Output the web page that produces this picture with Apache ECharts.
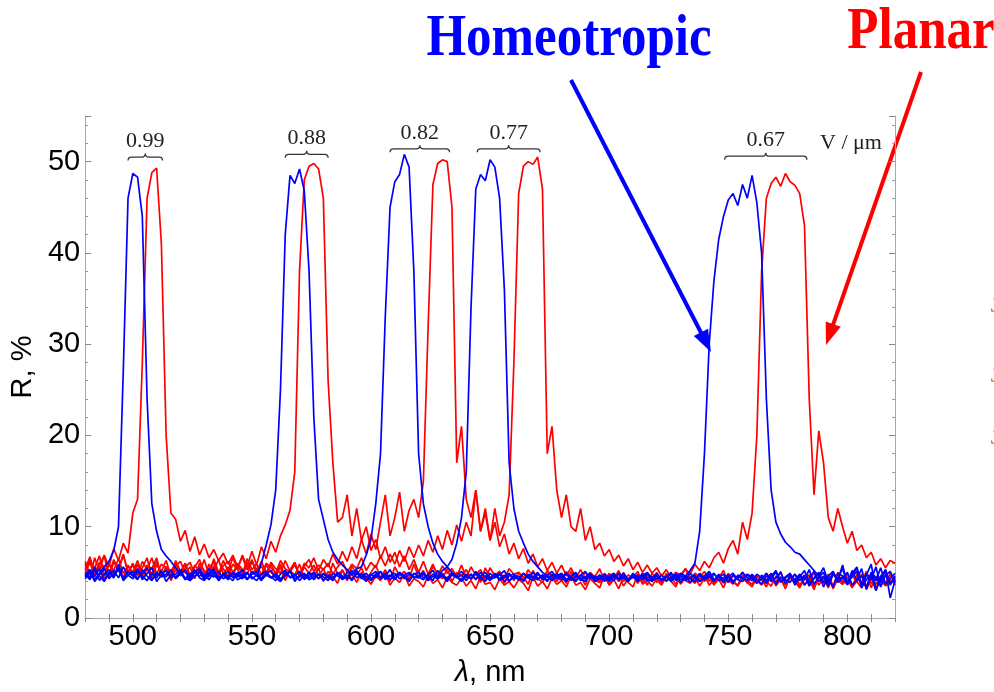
<!DOCTYPE html>
<html><head><meta charset="utf-8">
<script src="https://cdn.jsdelivr.net/npm/echarts@6/dist/echarts.min.js"></script>
<style>html,body{margin:0;padding:0;background:#fff}#c{width:994px;height:692px}</style>
</head><body><div id="c"></div>
<script>
// wavelength grid: 480 .. 820 nm, 2 nm step
const xStart = 480, xStep = 2;

// Homeotropic (blue) spectra, R %
const blue099 = [
4.6,5.3,4.2,4.9,5.6,6.2,7.4,10,27,46,
48.7,48.3,44,24,12.5,9.5,7.5,6.8,6.2,5.5,
4.8,5.3,4.4,5.0,5.4,4.5,4.9,5.2,4.3,4.8,
5.1,4.4,4.7,5.3,4.2,4.8,5.0,4.3,4.9,4.5,
4.1,4.8,5.2,4.4,4.6,5.1,4.2,4.7,5.0,4.3,
4.9,4.5,4.1,5.0,4.6,4.3,5.2,4.4,4.8,4.1,
4.7,5.1,4.3,4.6,5.3,4.2,4.9,4.5,4.0,4.8,
5.0,4.4,4.7,4.1,5.2,4.6,4.3,5.0,4.5,4.2,
4.8,4.3,5.1,4.5,4.0,4.9,4.4,4.7,5.2,4.1,
4.6,4.2,4.9,4.4,5.0,4.3,4.7,4.1,4.8,4.5,
4.2,4.9,4.4,4.0,4.7,5.1,4.3,4.6,4.2,4.8,
4.4,4.1,4.9,4.5,4.2,4.8,4.0,4.6,5.0,4.3,
4.7,4.2,4.5,5.0,4.1,4.6,4.3,4.9,4.4,4.0,
4.6,5.1,4.2,4.5,4.8,3.9,4.7,4.3,5.0,4.4,
4.1,4.8,4.4,3.8,4.6,5.2,4.0,4.5,4.9,3.9,
4.7,4.2,5.3,3.7,4.5,5.0,3.6,4.8,4.3,5.4,
3.8,4.6,5.5,3.5,4.9,4.2,5.6,3.4,4.7,5.1,
4.0];
const blue088 = [
5.0,4.4,5.6,4.1,4.8,5.3,4.5,5.9,4.3,5.1,
4.6,5.4,4.2,4.9,5.5,4.0,4.7,5.2,4.4,4.8,
5.3,4.3,4.9,4.5,5.1,4.2,4.6,5.4,4.1,4.7,
4.4,5.0,4.5,4.8,4.2,5.1,4.6,6.0,8.0,10.2,
14,25,42,48.5,47.6,49.2,46.8,38,22,13,
10.8,8.6,7.2,6.4,5.8,5.3,4.8,5.2,4.5,4.9,
4.3,4.8,5.1,4.4,4.7,4.2,5.0,4.6,4.1,4.9,
4.5,4.2,4.8,5.2,4.3,4.6,4.0,4.9,4.4,4.7,
4.1,4.8,4.3,4.6,5.0,4.2,4.5,4.9,4.0,4.6,
4.8,4.3,4.1,4.7,4.4,5.0,4.2,4.6,4.3,4.9,
4.4,4.0,4.6,4.9,4.2,4.5,4.8,4.1,4.7,4.3,
4.6,4.9,4.2,4.4,4.0,4.8,4.5,4.3,4.9,4.1,
4.3,4.7,4.0,4.5,4.8,4.2,4.6,3.9,4.4,4.7,
4.2,4.5,4.9,4.1,4.4,4.7,4.0,4.6,4.3,4.8,
4.5,3.9,4.3,4.9,4.0,4.4,5.0,3.8,4.6,4.2,
4.8,3.6,4.4,5.1,4.0,4.6,3.5,5.0,4.2,4.5,
3.7,5.2,4.1,4.6,3.3,5.0,4.4,3.9,5.3,3.6,
4.6];
const blue082 = [
4.3,5.0,4.6,5.4,4.1,4.8,5.2,4.4,5.6,4.7,
5.1,4.3,4.9,5.5,4.2,4.7,5.0,4.5,5.3,4.4,
4.8,5.2,4.1,4.6,5.0,4.3,5.4,4.7,4.2,4.9,
4.5,4.1,5.0,4.6,4.3,4.8,5.1,4.2,4.7,4.4,
4.9,4.3,4.6,5.2,4.0,4.7,4.4,5.0,4.2,4.8,
4.5,4.1,4.9,4.6,4.3,5.0,4.7,5.4,5.6,6.9,
8.6,12.5,18,33,45,47.8,48.6,50.8,49.4,38,
18,12.5,10,8.2,7.0,6.2,5.6,5.0,4.6,5.1,
4.4,4.8,4.2,5.0,4.5,4.1,4.9,4.3,4.7,4.0,
4.6,4.2,4.9,4.4,4.1,4.8,4.5,4.0,4.7,4.3,
4.5,4.9,4.1,4.6,4.3,4.0,4.8,4.4,4.2,4.7,
4.0,4.6,4.4,4.8,4.1,4.5,4.2,4.9,4.3,4.0,
4.7,4.1,4.5,4.2,4.8,3.9,4.6,4.3,4.0,4.9,
4.3,4.6,4.0,4.8,4.2,4.5,3.8,4.7,4.4,4.1,
4.8,4.2,3.7,4.6,4.3,5.0,3.9,4.4,4.7,3.6,
4.5,5.2,3.8,4.3,4.9,3.4,4.6,5.1,3.9,4.4,
5.0,3.6,4.2,5.4,3.2,4.8,4.1,5.5,3.7,4.3,
4.9];
const blue077 = [
4.8,4.2,5.3,4.6,4.0,5.0,4.4,5.5,4.1,4.7,
4.3,5.1,4.6,4.1,4.9,4.4,5.2,4.0,4.7,4.5,
5.0,4.2,4.7,5.3,4.4,4.1,4.8,4.5,5.1,4.3,
4.6,4.9,4.2,4.5,5.0,4.3,4.7,4.1,4.8,5.2,
4.4,4.0,4.7,5.1,4.3,4.6,4.9,4.2,4.5,4.8,
4.1,4.7,4.4,5.0,4.2,4.6,4.3,4.9,4.5,4.0,
4.8,4.4,5.1,4.2,4.6,4.9,4.3,4.7,5.0,4.4,
4.6,5.0,4.3,4.8,4.5,5.2,5.6,6.4,8.2,11,
16,34,47,48.6,47.9,50.2,49.4,46,36,17,
12,9.5,8.2,7.0,6.2,5.6,5.0,4.6,5.1,4.4,
4.8,4.2,4.6,5.0,4.1,4.5,4.9,4.3,4.7,4.0,
4.5,4.8,4.2,4.6,4.0,4.9,4.3,4.7,4.1,4.4,
4.9,4.2,4.6,4.0,4.5,4.8,4.1,4.4,4.7,4.0,
4.4,4.8,4.1,4.6,3.9,4.5,4.9,4.2,4.0,4.7,
4.3,3.8,4.7,4.1,4.9,3.7,4.5,4.2,3.9,4.8,
4.1,4.7,3.5,4.4,5.0,3.9,4.3,3.4,4.9,4.6,
3.9,4.5,5.1,3.4,4.2,4.8,3.0,4.6,5.2,3.8,
4.3];
const blue067 = [
4.5,5.1,4.0,4.7,5.4,4.3,4.9,5.2,4.4,5.0,
4.7,4.2,5.3,4.6,4.1,5.0,4.5,4.8,5.2,4.3,
4.9,4.4,4.1,5.1,4.6,4.8,4.2,5.0,4.5,4.7,
4.2,5.0,4.7,4.3,4.9,4.5,4.1,4.8,5.1,4.4,
4.6,4.2,5.0,4.5,4.8,4.1,4.7,4.4,4.9,4.3,
4.8,4.5,4.2,4.9,4.4,4.7,4.1,5.0,4.3,4.6,
4.1,4.7,4.4,4.9,4.2,4.6,5.0,4.3,4.8,4.5,
4.4,4.8,4.1,4.6,4.3,4.9,4.2,4.7,4.5,4.0,
4.7,4.3,4.9,4.2,4.6,4.4,4.8,4.1,4.5,4.9,
4.3,4.6,4.0,4.8,4.4,4.2,4.7,4.5,4.1,4.6,
4.9,4.2,4.5,4.1,4.7,4.3,4.6,4.0,4.4,4.8,
4.2,4.6,4.3,4.9,4.1,4.5,4.7,4.2,4.8,4.4,
4.6,4.1,4.5,4.8,4.3,4.9,4.6,5.2,6.0,9.5,
18,30,37,41.5,44,45.8,46.5,45.2,47.5,46.0,
48.5,45.5,40,24,14,10.5,9.2,8.3,7.8,7.2,
7.0,6.4,5.8,5.2,4.6,5.5,3.9,5.0,4.2,5.8,
3.6,4.9,5.6,3.3,4.7,5.9,3.1,4.4,5.3,2.2,
4.1];

// Planar (red) spectra, R %
const red099 = [
5.9,4.3,6.6,5.1,6.9,5.6,7.6,6.3,8.2,7.1,
11.5,13,28,46,48.8,49.3,41,20,11.5,10.8,
8.4,9.6,7.3,8.9,6.9,8.1,6.6,7.5,6.3,7.1,
5.9,6.9,5.6,6.7,5.3,6.4,5.1,6.2,5.0,5.9,
4.8,5.9,4.5,5.3,6.1,4.4,5.6,4.9,5.8,4.6,
5.4,4.3,6.0,4.8,5.2,4.1,5.7,4.7,5.5,4.2,
5.0,5.8,4.4,5.3,4.0,5.6,4.6,5.1,4.3,5.9,
4.5,5.2,4.1,5.7,4.8,4.3,5.4,4.0,5.0,4.6,
5.3,4.2,4.9,3.9,5.5,4.4,4.7,5.1,3.8,4.8,
4.1,5.0,4.5,3.7,5.2,4.3,3.9,4.9,4.6,4.0,
4.7,3.8,5.1,4.2,4.5,3.6,4.9,4.1,3.9,4.6,
3.7,4.4,4.8,3.5,4.3,4.7,3.9,4.5,3.6,4.9,
4.2,3.6,4.6,4.0,3.4,4.8,4.1,3.8,4.5,3.5,
4.4,4.9,3.7,4.2,3.3,4.6,4.0,3.6,4.7,3.9,
3.4,4.5,4.1,3.8,4.9,3.5,4.3,3.2,4.6,4.0,
4.8,3.6,4.2,3.1,4.7,3.9,4.4,3.4,5.0,3.7,
4.3,3.3,4.8,3.9,3.5,4.6,3.0,4.4,3.8,4.9,
3.6];
const red088 = [
4.9,6.1,4.5,5.7,4.2,6.0,4.8,5.5,4.4,5.8,
4.6,5.9,4.3,5.4,4.9,6.2,4.5,5.6,4.1,5.3,
4.7,6.0,4.4,5.8,5.0,6.4,4.6,5.7,4.8,6.3,
5.1,6.6,5.3,6.9,5.6,7.3,5.8,7.8,6.5,8.4,
7.2,9.0,10.2,11.8,16,38,48,49.5,49.8,49.2,
46,26,17,10.5,11,13.5,9,12,8.5,10,
7.4,8.6,6.5,7.8,6.1,7.2,5.6,6.8,5.3,6.4,
5.0,6.2,4.8,5.9,4.6,5.7,4.9,5.4,4.5,5.8,
4.4,5.6,4.7,5.3,4.2,5.5,4.6,5.1,4.3,5.4,
4.8,5.0,4.1,5.3,4.5,4.9,4.2,5.2,4.6,4.7,
4.0,5.1,4.4,4.8,4.1,5.0,4.5,4.6,3.9,4.9,
4.3,4.7,4.0,5.0,4.2,4.6,3.8,4.9,4.4,4.5,
3.9,4.8,4.1,4.4,3.7,4.7,4.2,4.3,3.8,4.6,
4.0,4.5,3.6,4.7,4.1,4.2,3.7,4.6,4.3,3.9,
4.5,3.8,4.4,4.0,3.5,4.6,4.1,3.7,4.3,4.8,
3.6,4.2,4.7,3.4,4.5,3.9,4.8,3.5,4.4,4.1,
3.7,4.6,4.0,3.3,4.9,3.8,4.3,3.5,4.7,4.0,
4.4];
const red082 = [
6.2,4.8,5.5,6.8,4.6,5.9,5.2,6.5,4.9,5.7,
5.0,6.3,4.7,5.8,5.4,6.6,4.5,5.6,5.1,6.0,
4.6,5.5,6.1,4.9,5.7,4.4,5.9,5.2,6.4,4.8,
5.6,4.5,6.0,5.3,4.8,6.2,5.0,5.7,4.6,6.1,
5.4,4.9,6.3,5.1,5.8,4.7,6.0,5.5,6.6,5.2,
6.4,5.6,7.0,5.9,7.3,6.2,7.8,6.5,8.6,7.0,
9.2,7.5,10.5,13.5,9,11,13.8,9.5,11.8,13,
11,15,32,47.5,49.8,50.2,50,45,17,21,
13,11,14,9.5,12,8.5,10.5,7.8,9.2,7.0,
8.2,6.5,7.6,6.0,7.0,5.6,6.5,5.2,6.1,4.9,
5.8,4.6,5.5,4.4,5.3,4.2,5.0,4.5,5.4,4.1,
4.9,4.3,5.2,4.0,4.7,4.4,5.1,3.9,4.6,4.2,
5.0,3.8,4.5,4.1,4.8,3.7,4.4,4.6,3.9,4.3,
4.7,3.6,4.2,4.5,3.8,4.9,4.0,3.5,4.4,4.1,
3.7,4.6,4.2,3.4,4.8,3.9,4.3,3.6,4.5,4.0,
3.3,4.4,4.7,3.5,4.1,3.8,4.6,3.2,4.3,3.9,
4.5,3.4,4.0,4.8,3.1,4.2,3.7,4.6,3.5,4.1,
3.8];
const red077 = [
5.4,6.7,4.9,6.1,5.6,4.7,6.4,5.2,6.9,5.0,
5.8,4.6,6.2,5.3,6.6,4.8,5.9,5.5,4.5,6.3,
5.1,6.0,4.7,5.6,6.4,4.9,5.4,6.1,4.6,5.7,
6.2,5.0,5.8,4.8,6.5,5.3,5.9,4.7,6.0,5.5,
4.9,6.3,5.4,5.0,6.1,4.6,5.7,6.4,5.1,5.8,
5.3,6.0,4.8,5.6,6.2,5.0,5.9,5.4,6.6,5.2,
6.1,5.5,6.8,5.7,7.0,5.9,7.4,6.2,7.8,6.6,
8.0,6.8,8.5,7.2,9.0,7.5,9.6,8.0,10.2,8.4,
10.5,9.0,14,9.5,11.5,8.5,12,9,10.5,13.5,
28,46.5,49.5,50,49.7,50.5,47,18,21,14,
11,13.5,10,9.5,12,8.5,10,7.5,8.2,6.8,
7.5,6.2,6.9,5.7,6.5,5.3,6.1,5.0,5.8,4.9,
5.5,4.6,5.3,4.4,5.0,4.7,5.4,4.2,4.9,4.5,
5.1,4.0,4.8,4.4,5.2,3.9,4.6,4.3,5.0,3.8,
4.7,4.1,3.6,4.9,4.3,3.9,5.1,3.7,4.5,4.2,
3.5,4.6,4.0,5.0,3.6,4.4,3.3,4.8,4.1,3.7,
4.9,3.5,4.3,3.9,5.1,3.3,4.6,4.0,3.6,4.7,
4.2];
const red067 = [
5.2,6.4,4.7,5.9,6.8,4.5,6.1,5.4,7.0,5.0,
6.0,4.8,5.5,6.6,4.4,5.8,5.1,6.3,4.6,5.7,
6.2,4.9,5.6,4.3,6.0,5.2,4.7,6.5,5.0,5.4,
4.6,5.9,5.3,4.4,6.1,4.8,5.5,4.2,5.8,5.0,
4.5,5.6,4.1,5.2,4.7,5.9,4.3,5.0,4.6,5.4,
4.0,5.1,4.5,3.8,5.3,4.2,4.8,3.9,5.0,4.4,
3.7,4.6,4.1,5.0,3.6,4.4,3.9,4.8,3.5,4.3,
4.0,3.4,4.7,3.8,4.2,3.3,4.5,3.9,3.6,4.4,
3.5,4.1,3.2,4.6,3.7,3.9,3.1,4.3,3.6,4.0,
3.3,4.2,3.8,3.0,4.5,3.5,4.0,3.2,4.4,3.7,
4.1,3.4,4.6,3.6,3.9,3.1,4.3,3.8,3.3,4.7,
3.6,4.2,3.2,4.5,3.9,3.4,4.8,3.7,4.1,3.5,
4.4,3.8,4.9,4.2,5.0,4.5,5.4,4.8,5.9,5.2,
6.2,5.5,6.6,7.2,6.0,7.6,8.5,7.0,10.5,8.6,
11.5,20,38,46,47.6,48.3,47.3,48.7,47.8,47.4,
46.5,43,24,13.5,20.5,17,11,9.5,12,10,
8.2,9.5,7.4,8.0,6.6,7.2,5.8,6.5,5.5,6.3,
6.0];

const xTickLabels = [500, 550, 600, 650, 700, 750, 800];
const yTickLabels = [0, 10, 20, 30, 40, 50];
const braceLabels = ['0.99', '0.88', '0.82', '0.77', '0.67'];
const braceFrom = [498, 564, 608, 644.6, 748.5];
const braceTo = [512.5, 582, 633, 671, 783];
const braceLevel = [50.5, 50.8, 51.4, 51.4, 50.6];

const blueSeries = [blue099, blue088, blue082, blue077, blue067];
const redSeries = [red099, red088, red082, red077, red067];

function toXY(arr) { return arr.map((v, i) => [xStart + i * xStep, v]); }

const series = [];
redSeries.forEach((arr, k) => series.push({
  type: 'line', name: 'Planar ' + braceLabels[k], data: toXY(arr), showSymbol: false,
  lineStyle: { color: '#ff0000', width: 1.7 }, itemStyle: { color: '#ff0000' }, z: 2
}));
blueSeries.forEach((arr, k) => series.push({
  type: 'line', name: 'Homeotropic ' + braceLabels[k], data: toXY(arr), showSymbol: false,
  lineStyle: { color: '#0000ff', width: 1.7 }, itemStyle: { color: '#0000ff' }, z: 3
}));
series.push({
  type: 'custom', z: 5, silent: true,
  encode: { x: [0, 1], y: 2 },
  data: braceLabels.map((l, i) => [braceFrom[i], braceTo[i], braceLevel[i], i]),
  renderItem: function (params, api) {
    const a = api.coord([api.value(0), api.value(2)]);
    const b = api.coord([api.value(1), api.value(2)]);
    const y = a[1], x1 = a[0], x2 = b[0], xm = (x1 + x2) / 2, h = 3.5;
    const d = 'M' + x1 + ',' + (y + h) + ' Q' + x1 + ',' + y + ' ' + (x1 + h) + ',' + y +
      ' L' + (xm - h) + ',' + y + ' Q' + xm + ',' + y + ' ' + xm + ',' + (y - h) +
      ' Q' + xm + ',' + y + ' ' + (xm + h) + ',' + y + ' L' + (x2 - h) + ',' + y +
      ' Q' + x2 + ',' + y + ' ' + x2 + ',' + (y + h);
    return {
      type: 'group', children: [
        { type: 'path', shape: { pathData: d }, style: { stroke: '#333', fill: null, lineWidth: 1.3 } },
        { type: 'text', style: { text: braceLabels[api.value(3)], x: xm, y: y - 16, align: 'center', verticalAlign: 'middle',
          fontSize: 22, fontFamily: 'Liberation Serif', fill: '#222' } }
      ]
    };
  }
});

const axisGray = '#a8a8a8';
const labelFont = { color: '#000', fontSize: 29, fontFamily: 'Liberation Sans' };
const xBase = { type: 'value', min: 480, max: 820, interval: 10, splitLine: { show: false },
  axisLine: { lineStyle: { color: axisGray, width: 1 } },
  axisTick: { inside: true, length: 4, lineStyle: { color: '#888' } } };
const yBase = { type: 'value', min: 0, max: 55, interval: 10, splitLine: { show: false },
  axisLine: { lineStyle: { color: axisGray, width: 1 } },
  axisTick: { inside: true, length: 6, lineStyle: { color: '#888' } },
  minorTick: { show: true, splitNumber: 5, length: 3, lineStyle: { color: '#999' } } };

function arrow(from, to, color) {
  const dx = to[0] - from[0], dy = to[1] - from[1];
  const L = Math.sqrt(dx * dx + dy * dy), ux = dx / L, uy = dy / L;
  const hl = 22, hw = 8;
  const bx = to[0] - ux * hl, by = to[1] - uy * hl;
  return [
    { type: 'line', shape: { x1: from[0], y1: from[1], x2: bx + ux * 2, y2: by + uy * 2 }, style: { stroke: color, lineWidth: 4 } },
    { type: 'polygon', shape: { points: [to, [bx - uy * hw, by + ux * hw], [bx + uy * hw, by - ux * hw]] }, style: { fill: color } }
  ];
}

const chart = echarts.init(document.getElementById('c'));
chart.setOption({
  animation: false,
  backgroundColor: '#fff',
  grid: { left: 80, right: 99, top: 116, bottom: 72 },
  xAxis: [
    Object.assign({}, xBase, { position: 'bottom',
      name: '{i|λ}, nm', nameLocation: 'middle', nameGap: 40,
      nameTextStyle: { color: '#000', fontSize: 29, fontFamily: 'Liberation Sans',
        rich: { i: { fontStyle: 'italic', fontSize: 29, fontFamily: 'Liberation Sans', color: '#000' } } },
      axisLabel: Object.assign({ margin: 4, showMinLabel: false, showMaxLabel: false,
        formatter: v => xTickLabels.indexOf(v) >= 0 ? String(v) : '' }, labelFont) }),
    Object.assign({}, xBase, { position: 'top', axisLabel: { show: false } })
  ],
  yAxis: [
    Object.assign({}, yBase, { position: 'left',
      name: 'R, %', nameLocation: 'middle', nameGap: 47,
      nameTextStyle: { color: '#000', fontSize: 29, fontFamily: 'Liberation Sans' },
      axisLabel: Object.assign({ margin: 5, showMaxLabel: false,
        formatter: v => yTickLabels.indexOf(v) >= 0 ? String(v) : '' }, labelFont) }),
    Object.assign({}, yBase, { position: 'right', axisLabel: { show: false } })
  ],
  series: series,
  graphic: [
    { type: 'text', x: 569, y: 40, scaleY: 1.15, style: { text: 'Homeotropic', align: 'center', verticalAlign: 'middle',
      fontSize: 51, fontWeight: 'bold', fontFamily: 'Liberation Serif', fill: '#0000ff' } },
    { type: 'text', x: 921, y: 33, scaleY: 1.15, style: { text: 'Planar', align: 'center', verticalAlign: 'middle',
      fontSize: 51, fontWeight: 'bold', fontFamily: 'Liberation Serif', fill: '#ff0000' } },
    { type: 'text', x: 820, y: 143, style: { text: 'V / μm', align: 'left', verticalAlign: 'middle',
      fontSize: 22, fontFamily: 'Liberation Serif', fill: '#222' } },
    { type: 'text', x: 991, y: 306, style: { text: '3', fontSize: 24, fontStyle: 'italic', fontFamily: 'Liberation Serif', fill: '#c07a10', verticalAlign: 'middle' } },
    { type: 'text', x: 991, y: 376, style: { text: '3', fontSize: 24, fontStyle: 'italic', fontFamily: 'Liberation Serif', fill: '#c07a10', verticalAlign: 'middle' } },
    { type: 'text', x: 991, y: 438, style: { text: '3', fontSize: 24, fontStyle: 'italic', fontFamily: 'Liberation Serif', fill: '#c07a10', verticalAlign: 'middle' } }
  ].concat(arrow([571, 80], [711, 352], '#0000ff'), arrow([921, 72], [826, 345], '#ff0000'))
});
</script></body></html>
